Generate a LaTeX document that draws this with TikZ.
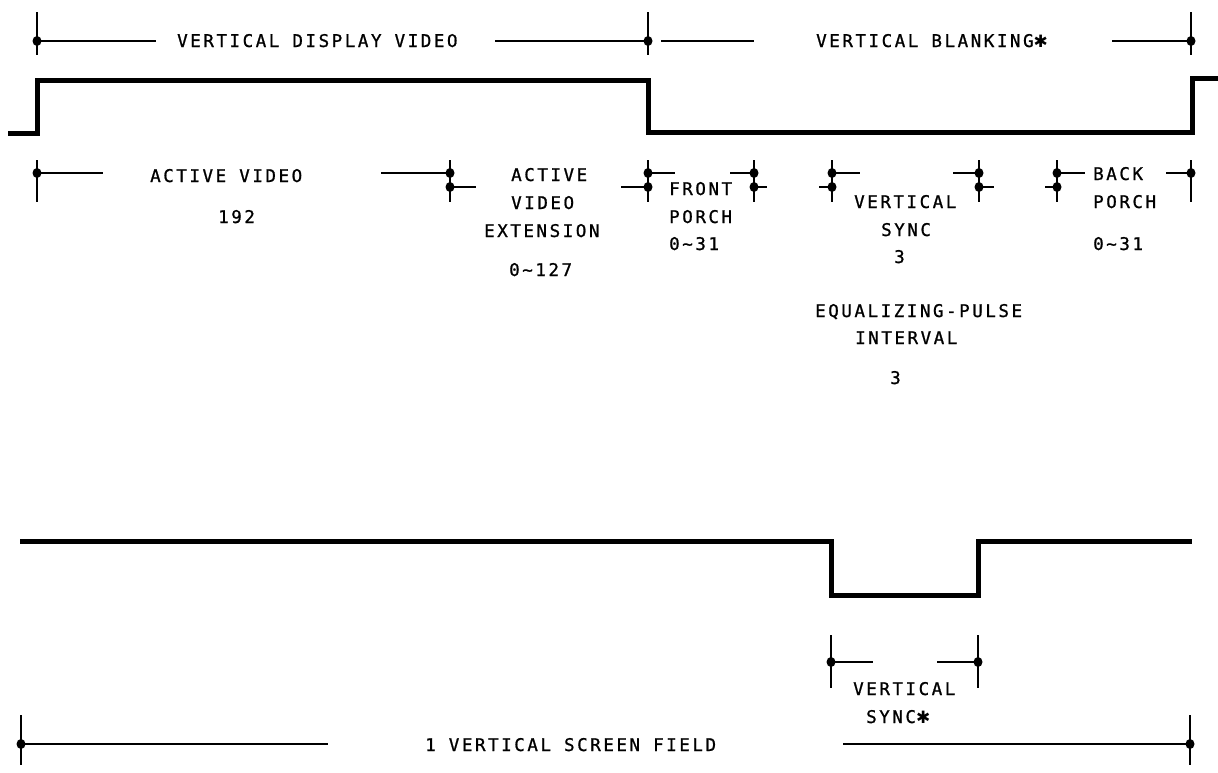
\documentclass[tikz,border=0pt]{standalone}
\usepackage{fontspec}
\newfontfamily\plotfont[LetterSpace=14.6,FakeBold=1]{DejaVu Sans Mono}
\newfontfamily\starfont{DejaVu Sans}
\newcommand\plotstar{{\starfont\fontsize{17}{17}\selectfont\char"2731}}
\begin{document}
\begin{tikzpicture}[x=1pt,y=-1pt,
  dimline/.style={line width=1.6pt},
  wave/.style={line width=5pt,line join=miter,line cap=butt},
  lbl/.style={font=\plotfont\fontsize{17.5}{19}\selectfont,inner sep=0pt,anchor=base west}]
\useasboundingbox (0,0) rectangle (1218,772);

% ---------- top dimension row ----------
\coordinate (A0) at (37,41);
\coordinate (A1) at (648,41);
\coordinate (A2) at (1191,41);
\coordinate (a0e) at (156,41);
\coordinate (a1s) at (495,41);
\coordinate (b0s) at (661,41);
\coordinate (b0e) at (754,41);
\coordinate (b1s) at (1112,41);
\node[lbl] (vdv) at (177,47) {VERTICAL DISPLAY VIDEO};
\node[lbl] (vblank) at (816,47) {VERTICAL BLANKING\plotstar};
\draw[dimline] (A0) -- (a0e);
\draw[dimline] (a1s) -- (A1);
\draw[dimline] (b0s) -- (b0e);
\draw[dimline] (b1s) -- (A2);
\foreach \c in {A0,A1,A2}{
  \draw[dimline] ([yshift=29pt]\c) -- ([yshift=-14pt]\c);
  \fill (\c) ellipse[x radius=4.5pt,y radius=5pt];
}

% ---------- top waveform ----------
\draw[wave] (8,133) -- (37,133) -- (37,80) -- (648,80) -- (648,132) -- (1192,132) -- (1192,78) -- (1218,78);

% ---------- second dimension row ----------
\coordinate (P0) at (37,173);
\coordinate (P1t) at (450,173);  \coordinate (P1b) at (450,187);
\coordinate (P2t) at (648,173);  \coordinate (P2b) at (648,187);
\coordinate (P3t) at (754,173);  \coordinate (P3b) at (754,187);
\coordinate (P4t) at (832,173);  \coordinate (P4b) at (832,187);
\coordinate (P5t) at (979,173);  \coordinate (P5b) at (979,187);
\coordinate (P6t) at (1057,173); \coordinate (P6b) at (1057,187);
\coordinate (P7) at (1191,173);

\coordinate (q0) at (103,173);  \coordinate (q1) at (381,173);
\coordinate (q2) at (476,187);  \coordinate (q3) at (621,187);
\coordinate (q4) at (675,173);  \coordinate (q5) at (730,173);
\coordinate (q6) at (767,187);  \coordinate (q7) at (819,187);
\coordinate (q8) at (860,173);  \coordinate (q9) at (953,173);
\coordinate (q10) at (994,187); \coordinate (q11) at (1045,187);
\coordinate (q12) at (1085,173);\coordinate (q13) at (1166,173);

\draw[dimline] (P0) -- (q0);   \draw[dimline] (q1) -- (P1t);
\draw[dimline] (P1b) -- (q2);  \draw[dimline] (q3) -- (P2b);
\draw[dimline] (P2t) -- (q4);  \draw[dimline] (q5) -- (P3t);
\draw[dimline] (P3b) -- (q6);  \draw[dimline] (q7) -- (P4b);
\draw[dimline] (P4t) -- (q8);  \draw[dimline] (q9) -- (P5t);
\draw[dimline] (P5b) -- (q10); \draw[dimline] (q11) -- (P6b);
\draw[dimline] (P6t) -- (q12); \draw[dimline] (q13) -- (P7);

\foreach \c in {P0,P1t,P2t,P3t,P4t,P5t,P6t,P7}{
  \draw[dimline] ([yshift=13pt]\c) -- ([yshift=-29pt]\c);
  \fill (\c) ellipse[x radius=4.5pt,y radius=5pt];
}
\foreach \c in {P1b,P2b,P3b,P4b,P5b,P6b}{
  \fill (\c) ellipse[x radius=4.5pt,y radius=5pt];
}

\node[lbl] (av) at (150,182) {ACTIVE VIDEO};
\node[lbl] (avn) at (218,223) {192};
\node[lbl] (ext1) at (511,181) {ACTIVE};
\node[lbl] (ext2) at (511,209) {VIDEO};
\node[lbl] (ext3) at (484,237) {EXTENSION};
\node[lbl] (extn) at (509,276) {0\textasciitilde127};
\node[lbl] (fp1) at (669,195) {FRONT};
\node[lbl] (fp2) at (669,223) {PORCH};
\node[lbl] (fpn) at (669,250) {0\textasciitilde31};
\node[lbl] (vs1) at (854,208) {VERTICAL};
\node[lbl] (vs2) at (881,236) {SYNC};
\node[lbl] (vsn) at (894,263) {3};
\node[lbl] (bp1) at (1093,180) {BACK};
\node[lbl] (bp2) at (1093,208) {PORCH};
\node[lbl] (bpn) at (1093,250) {0\textasciitilde31};
\node[lbl] (eq1) at (815,317) {EQUALIZING-PULSE};
\node[lbl] (eq2) at (855,344) {INTERVAL};
\node[lbl] (eqn) at (890,384) {3};

% ---------- bottom waveform ----------
\draw[wave] (20,541) -- (831,541) -- (831,595) -- (978,595) -- (978,541) -- (1192,541);

% ---------- vertical sync* markers ----------
\coordinate (S0) at (831,662);
\coordinate (S1) at (978,662);
\coordinate (s0e) at (873,662);
\coordinate (s1s) at (937,662);
\draw[dimline] (S0) -- (s0e);
\draw[dimline] (s1s) -- (S1);
\foreach \c in {S0,S1}{
  \draw[dimline] ([yshift=27pt]\c) -- ([yshift=-26pt]\c);
  \fill (\c) ellipse[x radius=4.5pt,y radius=5pt];
}
\node[lbl] (vsb1) at (853,695) {VERTICAL};
\node[lbl] (vsb2) at (866,723) {SYNC\plotstar};

% ---------- bottom dimension ----------
\coordinate (D0) at (21,744);
\coordinate (D1) at (1190,744);
\coordinate (d0e) at (328,744);
\coordinate (d1s) at (843,744);
\draw[dimline] (D0) -- (d0e);
\draw[dimline] (d1s) -- (D1);
\foreach \c in {D0,D1}{
  \draw[dimline] ([yshift=29pt]\c) -- ([yshift=-21pt]\c);
  \fill (\c) ellipse[x radius=4.5pt,y radius=5pt];
}
\node[lbl] (vsf) at (425,751) {1 VERTICAL SCREEN FIELD};
\end{tikzpicture}
\end{document}
